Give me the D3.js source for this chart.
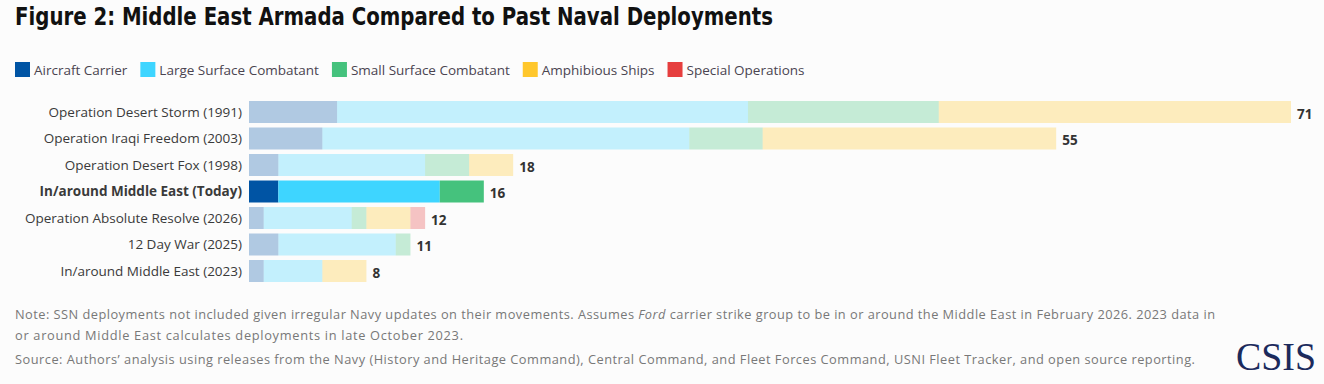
<html>
<head>
<script src="https://d3js.org/d3.v7.min.js"></script>
<style>
  body { margin:0; background:#fcfcfc; }
  svg { display:block; }
</style>
</head>
<body>
<svg id="chart" width="1324" height="384"></svg>
<script>
// chart values
var categories = ["Operation Desert Storm (1991)", "Operation Iraqi Freedom (2003)", "Operation Desert Fox (1998)",
  "In/around Middle East (Today)", "Operation Absolute Resolve (2026)", "12 Day War (2025)", "In/around Middle East (2023)"];
var seriesNames = ["Aircraft Carrier", "Large Surface Combatant", "Small Surface Combatant", "Amphibious Ships", "Special Operations"];
var carrier      = [6, 5, 2, 2, 1, 2, 1];
var largeSurface = [28, 25, 10, 11, 6, 8, 4];
var smallSurface = [13, 5, 3, 3, 1, 1, 0];
var amphibious   = [24, 20, 3, 0, 3, 0, 3];
var specialOps   = [0, 0, 0, 0, 1, 0, 0];
var highlighted  = "In/around Middle East (Today)";

var colors = ["#0054a4", "#3ed5ff", "#45c27d", "#ffc72c", "#e63e3e"];

var svg = d3.select("#chart");
var font = "'Open Sans', Roboto, sans-serif";

// title
svg.append("text")
  .attr("x", 15).attr("y", 25)
  .attr("font-family", "'Liberation Sans Narrow', 'DejaVu Sans Condensed', Roboto, sans-serif")
  .attr("font-weight", "bold")
  .attr("font-size", 24)
  .attr("fill", "#111")
  .attr("textLength", 758).attr("lengthAdjust", "spacingAndGlyphs")
  .text("Figure 2: Middle East Armada Compared to Past Naval Deployments");

// legend
var lx = 15;
seriesNames.forEach(function(name, i) {
  var g = svg.append("g").attr("transform", "translate(" + lx + ",62)");
  g.append("rect").attr("width", 15).attr("height", 15).attr("fill", colors[i]);
  var t = g.append("text").attr("x", 19).attr("y", 12.5)
    .attr("font-family", font).attr("font-size", 13.5).attr("fill", "#4a4450")
    .text(name);
  lx += 19 + t.node().getComputedTextLength() + 13;
});

// table for stacking
var table = categories.map(function(c, i) {
  return {cat: c, carrier: carrier[i], large: largeSurface[i], small: smallSurface[i], amph: amphibious[i], spec: specialOps[i]};
});
var keys = ["carrier", "large", "small", "amph", "spec"];
var stacked = d3.stack().keys(keys)(table);
var totals = table.map(function(d) { return d.carrier + d.large + d.small + d.amph + d.spec; });

var x = d3.scaleLinear().domain([0, d3.max(totals)]).range([249, 1291]);
var y = d3.scaleBand().domain(categories).range([98.75, 284.25]).paddingInner(0.17).paddingOuter(0.085);

var layers = svg.selectAll(".layer").data(stacked).enter().append("g")
  .attr("class", "layer")
  .attr("fill", function(d, i) { return colors[i]; });

layers.selectAll("rect").data(function(d) { return d; }).enter().append("rect")
  .attr("x", function(d) { return x(d[0]); })
  .attr("y", function(d) { return y(d.data.cat); })
  .attr("width", function(d) { return x(d[1]) - x(d[0]); })
  .attr("height", y.bandwidth())
  .attr("fill-opacity", function(d) { return d.data.cat == highlighted ? 1 : 0.3; });

// category labels
svg.selectAll(".cat").data(categories).enter().append("text")
  .attr("class", "cat")
  .attr("x", 242)
  .attr("y", function(d) { return y(d) + y.bandwidth() / 2; })
  .attr("dy", "0.35em")
  .attr("text-anchor", "end")
  .attr("font-family", font).attr("font-size", 13.5)
  .attr("font-weight", function(d) { return d == highlighted ? "bold" : "normal"; })
  .attr("fill", "#3a3a3a")
  .text(function(d) { return d; });

// totals
svg.selectAll(".total").data(table).enter().append("text")
  .attr("class", "total")
  .attr("x", function(d, i) { return x(totals[i]) + 6; })
  .attr("y", function(d) { return y(d.cat) + y.bandwidth() / 2 + 2; })
  .attr("dy", "0.35em")
  .attr("font-family", font).attr("font-size", 13.5).attr("font-weight", "bold")
  .attr("fill", "#333")
  .text(function(d, i) { return totals[i]; });

// notes
var note = svg.append("g").attr("font-family", font).attr("font-size", 12.8).attr("fill", "#787878");
var n1 = note.append("text").attr("x", 15).attr("y", 319)
  .attr("textLength", 1200).attr("lengthAdjust", "spacing");
n1.append("tspan").text("Note: SSN deployments not included given irregular Navy updates on their movements. Assumes ");
n1.append("tspan").attr("font-style", "italic").text("Ford");
n1.append("tspan").text(" carrier strike group to be in or around the Middle East in February 2026. 2023 data in");
note.append("text").attr("x", 15).attr("y", 340)
  .attr("textLength", 448).attr("lengthAdjust", "spacing")
  .text("or around Middle East calculates deployments in late October 2023.");
note.append("text").attr("x", 15).attr("y", 364)
  .attr("textLength", 1180).attr("lengthAdjust", "spacing")
  .text("Source: Authors\u2019 analysis using releases from the Navy (History and Heritage Command), Central Command, and Fleet Forces Command, USNI Fleet Tracker, and open source reporting.");

// logo
svg.append("text")
  .attr("x", 1236).attr("y", 370)
  .attr("font-family", "'Liberation Serif', 'DejaVu Serif', serif")
  .attr("font-size", 40)
  .attr("fill", "#1b2a5c")
  .attr("textLength", 80).attr("lengthAdjust", "spacingAndGlyphs")
  .text("CSIS");
</script>
</body>
</html>
